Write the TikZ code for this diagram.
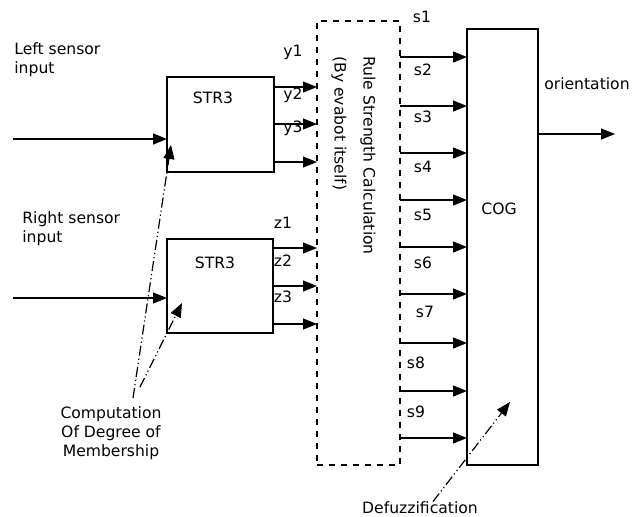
\documentclass[tikz,border=0pt]{standalone}
\usepackage{fontspec}
\setmainfont{DejaVu Sans}
\usetikzlibrary{arrows.meta,calc}

\tikzset{
    block/.style={draw, line width=0.6pt, inner sep=0pt, outer sep=0pt, anchor=north west},
    lbl/.style={font=\fontsize{7.8}{9.5}\selectfont, inner sep=0pt},
    arr/.style={line width=0.6pt, -{Triangle[length=7pt,width=5.5pt]}},
    hint/.style={line width=0.6pt, dash pattern=on 5pt off 1.5pt on 0.6pt off 1.5pt on 0.6pt off 1.5pt,
        -{Triangle[length=7pt,width=5.5pt]}}
}

\begin{document}
\begin{tikzpicture}[x=0.5pt, y=-0.5pt]
        \useasboundingbox (0, 0) rectangle (639, 516);

        \node[block, minimum width=53.5pt, minimum height=47.5pt] (strA) at (167, 77) {};
        \node[block, minimum width=53pt, minimum height=47pt] (strB) at (167, 239) {};
        \node[block, dashed, minimum width=41.5pt, minimum height=222pt] (rule) at (317, 21) {};
        \node[block, minimum width=35.5pt, minimum height=218pt] (cog) at (467, 29) {};

        \node[lbl] (strAtxt) at (213, 98) {STR3};
        \node[lbl] (strBtxt) at (215, 263) {STR3};
        \node[lbl] (cogtxt) at (499, 209) {COG};
        \node[lbl, rotate=-90, anchor=west] (ruletxt) at (368, 56) {Rule Strength Calculation};
        \node[lbl, rotate=-90, anchor=west] (evatxt) at (339, 56) {(By evabot itself)};

        \node[lbl, anchor=north west, align=left] (left) at (14, 42) {Left sensor\\input};
        \node[lbl, anchor=north west, align=left] (right) at (22, 211) {Right sensor\\input};
        \node[lbl, anchor=north, align=center] (memb) at (111, 406) {Computation\\Of Degree of\\Membership};
        \node[lbl] (orient) at (587, 84) {orientation};
        \node[lbl] (defz) at (420, 508) {Defuzzification};

        \coordinate (inL) at (13, 139);
        \coordinate (inR) at (13, 298);
        \coordinate (outp) at (615, 134);
        \draw[arr] (inL) -- (strA.west |- inL);
        \draw[arr] (inR) -- (strB.west |- inR);
        \draw[arr] (cog.east |- outp) -- (outp);

        \foreach \y/\t/\ty in {87/y1/52, 124/y2/95, 162/y3/128} {
            \draw[arr] (strA.east |- 0,\y) -- (rule.west |- 0,\y);
            \node[lbl] at (293, \ty) {\t};
        }
        \foreach \y/\t/\ty in {248/z1/223, 286/z2/261, 324/z3/297} {
            \draw[arr] (strB.east |- 0,\y) -- (rule.west |- 0,\y);
            \node[lbl] at (283, \ty) {\t};
        }

        \foreach \y in {57,106,153,200,247,294,343,391,438} {
            \draw[arr] (rule.east |- 0,\y) -- (cog.west |- 0,\y);
        }
        \foreach \t/\x/\ty in {s1/422/17, s2/423/70, s3/423/117, s4/423/167, s5/423/215,
                s6/423/263, s7/425/312, s8/416/363, s9/416/412} {
            \node[lbl] at (\x, \ty) {\t};
        }

        \draw[hint] ($(memb.north)+(22,-8)$) -- ($(strA.south west)+(4,-27)$);
        \draw[hint] ($(memb.north)+(29,-19)$) -- ($(strB.south west)+(15,-30)$);
        \draw[hint] ($(defz.north)+(13,0)$) -- ($(cog.south west)+(43,-63)$);
    \end{tikzpicture}
\end{document}
